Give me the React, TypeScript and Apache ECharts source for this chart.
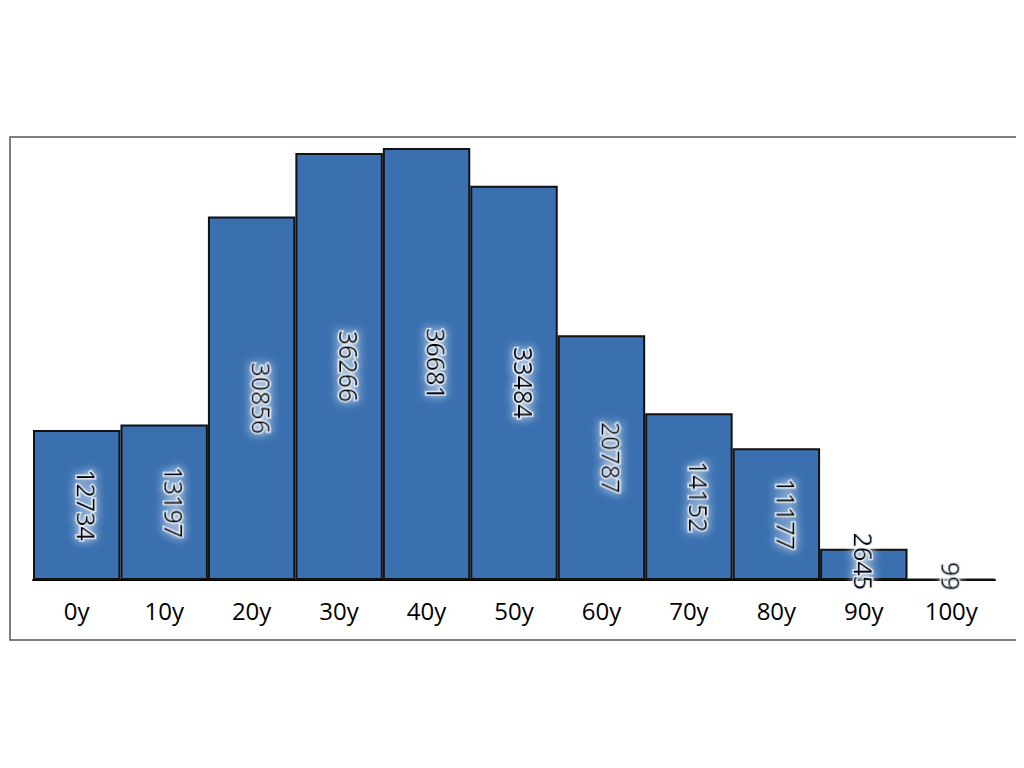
import React, { useEffect, useRef } from 'react';
import * as echarts from 'echarts';

const categories = ['0y', '10y', '20y', '30y', '40y', '50y', '60y', '70y', '80y', '90y', '100y'];
const counts = [12734, 13197, 30856, 36266, 36681, 33484, 20787, 14152, 11177, 2645, 99];

const App: React.FC = () => {
  const chartRef = useRef<HTMLDivElement>(null);

  useEffect(() => {
    if (!chartRef.current) return;
    const chart = echarts.init(chartRef.current, null, { renderer: 'svg' });

    const baseLabel = {
      show: true,
      position: 'inside' as const,
      rotate: -90,
      align: 'center' as const,
      verticalAlign: 'middle' as const,
      offset: [0, -10],
      color: '#000',
      fontSize: 25,
      fontFamily: 'Open Sans',
      textBorderColor: 'rgba(235,245,255,0.85)',
      textBorderWidth: 3,
      textShadowColor: 'rgba(255,255,255,0.9)',
      textShadowBlur: 10,
    };

    const seriesData = counts.map((v) => {
      if (v < 5000) {
        return {
          value: v,
          label: {
            ...baseLabel,
            position: 'insideBottom' as const,
            align: 'right' as const,
            offset: [0, 0],
            distance: -10,
          },
        };
      }
      return v;
    });

    chart.setOption({
      animation: false,
      graphic: [
        {
          type: 'rect',
          shape: { x: 10, y: 137, width: 1008, height: 503 },
          style: { fill: 'none', stroke: '#555', lineWidth: 1.5 },
        },
      ],
      grid: { left: 33, right: 29, top: 148, bottom: 188 },
      xAxis: {
        type: 'category',
        data: categories,
        axisLine: { lineStyle: { color: '#000', width: 2 } },
        axisTick: { show: false },
        axisLabel: { color: '#000', fontSize: 24, fontFamily: 'Open Sans', margin: 18 },
      },
      yAxis: { type: 'value', min: 0, max: 36681, show: false },
      series: [
        {
          type: 'bar',
          data: seriesData,
          barCategoryGap: 0,
          itemStyle: { color: '#3a70b0', borderColor: '#111', borderWidth: 2 },
          label: baseLabel,
        },
      ],
    });

    return () => chart.dispose();
  }, []);

  return <div ref={chartRef} style={{ width: 1024, height: 768, margin: -8 }} />;
};

export default App;
